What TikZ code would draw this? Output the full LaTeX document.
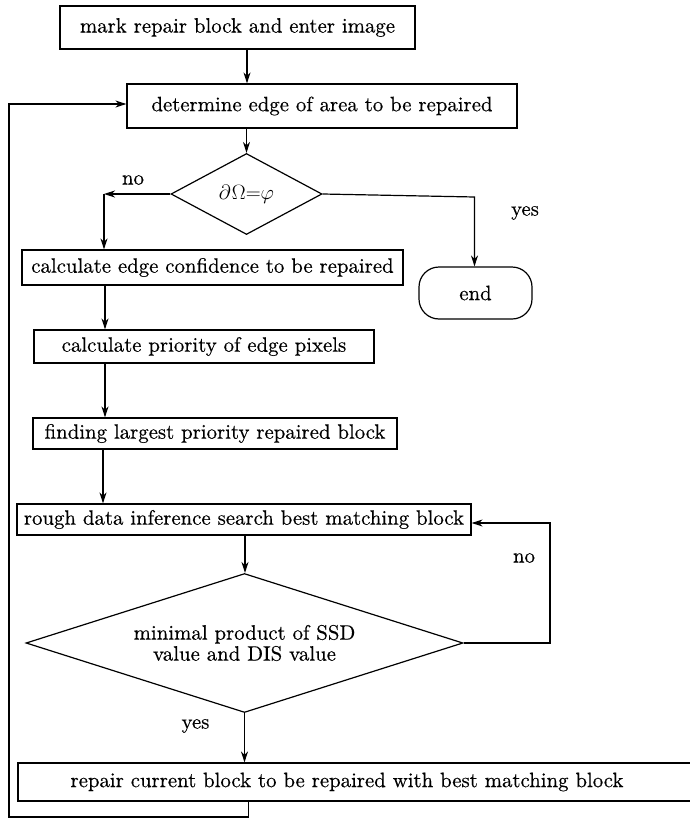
\documentclass[tikz,border=0pt]{standalone}
\usepackage{amsmath}
\usepackage{fontspec}
\setmainfont{lmroman10-regular.otf}[FakeBold=0.4]
\usetikzlibrary{shapes.geometric,arrows.meta}
\begin{document}
\begin{tikzpicture}[x=1pt,y=-1pt,
  every node/.style={font=\fontsize{20.8}{21}\selectfont, inner sep=1pt},
  box/.style={draw, line width=1.2pt, rectangle, align=center},
  dia/.style={draw, line width=1.2pt, diamond, inner sep=0pt, align=center},
  term/.style={draw, line width=1.2pt, rectangle, rounded corners=20pt},
  lbl/.style={inner sep=0pt},
  conn/.style={line width=1.2pt},
  arr/.style={conn, -{Stealth[length=11pt,width=7pt,inset=3.5pt]}}
]
\useasboundingbox (0,0) rectangle (689,819);

\node[box, minimum width=355pt, minimum height=43pt] (b1) at (237.5,27.5) {mark repair block and enter image};
\node[box, minimum width=390pt, minimum height=44pt] (b2) at (322,106) {determine edge of area to be repaired};
\node[dia, aspect=1.86, minimum width=151pt, minimum height=81pt] (d1) at (246.5,194) {\fontsize{20}{20}\selectfont$\partial\mkern1mu\Omega{=}\varphi$};
\node[box, minimum width=381pt, minimum height=35pt] (b3) at (212.5,267.5) {calculate edge confidence to be repaired};
\node[term, minimum width=113pt, minimum height=52pt] (end) at (475.5,293) {end};
\node[box, minimum width=340pt, minimum height=33pt] (b4) at (204,346.5) {calculate priority of edge pixels};
\node[box, minimum width=364pt, minimum height=31pt] (b5) at (215,433.5) {finding largest priority repaired block};
\node[box, minimum width=454pt, minimum height=31pt] (b6) at (244,519.5) {rough data inference search best matching block};
\node[dia, aspect=3.14, minimum width=437pt, minimum height=139pt] (d2) at (244.5,643) {minimal product of SSD\\value and DIS value};
\node[box, minimum width=676pt, minimum height=38pt] (b7) at (356,782) {\hspace*{-18pt}repair current block to be repaired with best matching block};

\node[lbl] (no1) at (133,180) {no};
\node[lbl] (yes1) at (525,213) {yes};
\node[lbl] (no2) at (524,558) {no};
\node[lbl] (yes2) at (195.5,726) {yes};

\coordinate (cl) at (104,194);
\coordinate (cr) at (474.5,197);
\coordinate (cn) at (550,523);
\coordinate (cb) at (248.5,817);
\coordinate (cf) at (9,817);
\coordinate (ct) at (9,104);

\draw[arr] (b1.south -| 247,0) -- (b2.north -| 247,0);
\draw[arr] (b2.south -| 246.5,0) -- (d1.north);
\draw[arr] (d1.west) -- (cl);
\draw[arr] (cl) -- (cl |- b3.north);
\draw[arr] (d1.east) -- (cr) -- (cr |- end.north);
\draw[arr] (b3.south -| 105,0) -- (b4.north -| 105,0);
\draw[arr] (b4.south -| 105,0) -- (b5.north -| 105,0);
\draw[arr] (b5.south -| 103,0) -- (b6.north -| 103,0);
\draw[arr] (b6.south -| 245,0) -- (d2.north -| 245,0);
\draw[arr] (d2.east) -| (cn) -- (cn -| b6.east);
\draw[arr] (d2.south) -- (b7.north -| d2.south);
\draw[arr] (b7.south -| cb) -- (cb) -- (cf) -- (ct) -- (ct -| b2.west);
\end{tikzpicture}
\end{document}
